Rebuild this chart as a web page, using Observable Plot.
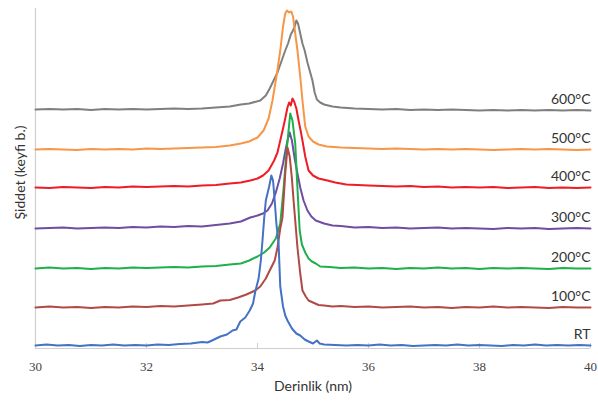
<!DOCTYPE html>
<html>
<head>
<meta charset="utf-8">
<script src="https://cdn.jsdelivr.net/npm/d3@7"></script>
<script src="https://cdn.jsdelivr.net/npm/@observablehq/plot@0.6"></script>
<style>
  html, body { margin: 0; padding: 0; background: #fff; }
</style>
</head>
<body>
<div id="chart"></div>
<script>
// Depth (nm) vs intensity (arbitrary units, curves offset vertically)
const seriesNames = ["RT", "100°C", "200°C", "300°C", "400°C", "500°C", "600°C"];
const seriesColors = ["#4472C4", "#B04A45", "#1FAF4B", "#6F4DA0", "#EE1C25", "#F79646", "#7F7F7F"];
const xTicks = [30, 32, 34, 36, 38, 40];

const rt = [[30,3],[30.2,4],[30.4,3],[30.6,3.5],[30.8,2.5],[31,3.5],[31.2,3],[31.4,4],[31.6,3],[31.8,3.5],[32,3],[32.2,4],[32.4,3.5],[32.6,4.5],[32.8,5],[33,6.5],[33.1,6],[33.2,8.5],[33.33,12],[33.45,14],[33.55,18],[33.62,19],[33.69,27],[33.78,31],[33.86,38],[33.92,45],[33.96,57],[34.02,70],[34.06,88],[34.09,108],[34.12,130],[34.15,148],[34.18,155],[34.21,162],[34.25,173],[34.28,168],[34.31,148],[34.34,125],[34.38,105],[34.41,62],[34.46,42],[34.5,33],[34.54,28],[34.62,20],[34.7,15],[34.77,13],[34.85,9],[34.92,7],[35.0,5],[35.07,8],[35.12,5],[35.2,4],[35.4,3.5],[35.6,3],[35.8,3.5],[36,3],[36.2,4],[36.4,3],[36.6,3.5],[36.8,2.5],[37,3],[37.2,3.5],[37.4,3],[37.6,4],[37.8,3],[38,3.5],[38.2,3],[38.4,2.5],[38.6,3.5],[38.8,3],[39,4],[39.2,3],[39.4,3.5],[39.6,3],[39.8,3.5],[40,3]];

const t100 = [[30,41],[30.25,42],[30.5,41],[30.75,41.5],[31,40.5],[31.25,41.5],[31.5,41],[31.75,42],[32,41.5],[32.25,42.5],[32.5,42],[32.75,43],[33,44],[33.2,45],[33.33,48],[33.5,48.5],[33.65,51],[33.8,54],[33.96,58],[34.05,62],[34.15,70],[34.22,78],[34.31,88],[34.36,101],[34.41,120],[34.45,131],[34.5,175],[34.54,201],[34.58,192],[34.62,170],[34.65,148],[34.72,101],[34.77,75],[34.81,58],[34.87,52],[34.92,48],[35.0,46],[35.1,43.5],[35.2,43],[35.35,42],[35.5,42.5],[35.75,41.5],[36,42],[36.25,41],[36.5,41.5],[36.75,42],[37,41],[37.25,41.5],[37.5,40.5],[37.75,41.5],[38,41],[38.25,42],[38.5,41],[38.75,41.5],[39,41],[39.25,40.5],[39.5,41.5],[39.75,41],[40,41]];

const t200 = [[30,80],[30.25,81],[30.5,80],[30.75,80.5],[31,79.5],[31.25,80.5],[31.5,80],[31.75,81],[32,80.5],[32.25,81],[32.5,81.5],[32.75,81],[33,82],[33.25,82.5],[33.5,84],[33.7,85],[33.85,88],[34.0,92],[34.12,96],[34.22,101],[34.33,110],[34.41,125],[34.47,160],[34.52,195],[34.56,218],[34.59,235],[34.63,228],[34.68,205],[34.72,160],[34.76,118],[34.8,104],[34.86,96],[34.92,90],[34.98,87],[35.05,85],[35.13,82],[35.3,81.5],[35.5,80.5],[35.75,81],[36,80],[36.25,80.5],[36.5,79.5],[36.75,80.5],[37,80],[37.25,81],[37.5,80],[37.75,80.5],[38,79.5],[38.25,80.5],[38.5,80],[38.75,80.5],[39,80],[39.25,79.5],[39.5,80.5],[39.75,80],[40,80]];

const t300 = [[30,120],[30.25,120.5],[30.5,121],[30.75,120],[31,120.5],[31.25,121],[31.5,120.5],[31.75,121.5],[32,121],[32.25,122],[32.5,121.5],[32.75,122.5],[33,122],[33.25,123.5],[33.5,125],[33.7,127],[33.87,131],[34.0,133],[34.1,135],[34.18,138],[34.26,145],[34.33,156],[34.4,170],[34.46,185],[34.51,200],[34.55,210],[34.58,216],[34.62,208],[34.67,190],[34.72,175],[34.77,161],[34.83,148],[34.9,138],[34.97,132],[35.05,128],[35.2,125],[35.35,123],[35.5,122.5],[35.75,121],[36,121.5],[36.25,120.5],[36.5,121],[36.75,120],[37,120.5],[37.25,121],[37.5,120],[37.75,120.5],[38,120],[38.25,119.5],[38.5,120.5],[38.75,120],[39,120.5],[39.25,119.5],[39.5,120],[39.75,120.5],[40,120]];

const t400 = [[30,161],[30.25,160.5],[30.5,161.5],[30.75,161],[31,160.5],[31.25,161.5],[31.5,161],[31.75,162],[32,161.5],[32.25,162],[32.5,162.5],[32.75,162],[33,163],[33.25,163.5],[33.5,165],[33.7,166],[33.87,168],[34.0,170],[34.1,173],[34.2,178],[34.3,188],[34.36,196],[34.41,208],[34.46,220],[34.5,230],[34.54,241],[34.57,246],[34.6,243],[34.63,250],[34.66,247],[34.7,240],[34.74,228],[34.78,217],[34.81,208],[34.86,192],[34.92,178],[35.0,173],[35.1,170],[35.26,168],[35.4,166],[35.6,164],[35.8,163.5],[36,163],[36.25,162.5],[36.5,162],[36.75,162.5],[37,161.5],[37.25,162],[37.5,161],[37.75,161.5],[38,161],[38.25,161.5],[38.5,160.5],[38.75,161],[39,161.5],[39.25,160.5],[39.5,161],[39.75,160.5],[40,161]];

const t500 = [[30,199],[30.25,199.5],[30.5,199],[30.75,198.5],[31,199.5],[31.25,199],[31.5,199.5],[31.75,199],[32,200],[32.25,199.5],[32.5,200],[32.75,200.5],[33,201],[33.25,201.5],[33.5,203],[33.7,205],[33.85,207],[34.0,211],[34.11,218],[34.2,230],[34.27,248],[34.35,275],[34.41,298],[34.46,322],[34.5,335],[34.53,338],[34.57,336],[34.61,337],[34.64,332],[34.68,315],[34.72,298],[34.77,272],[34.81,248],[34.86,222],[34.92,212],[35.0,207],[35.1,204],[35.25,202],[35.5,201],[35.75,200.5],[36,200],[36.25,199.5],[36.5,200],[36.75,199.5],[37,199],[37.25,199.5],[37.5,199],[37.75,199.5],[38,199],[38.25,198.5],[38.5,199],[38.75,199.5],[39,199],[39.25,199.5],[39.5,199],[39.75,198.5],[40,199]];

const t600 = [[30,239],[30.25,239.5],[30.5,239],[30.75,239.5],[31,238.5],[31.25,239.5],[31.5,239],[31.75,239.5],[32,239],[32.25,239.5],[32.5,240],[32.75,239.5],[33,240],[33.25,241],[33.5,242],[33.7,244],[33.85,245],[34.05,248],[34.15,253],[34.22,260],[34.29,268],[34.36,276],[34.43,287],[34.5,298],[34.55,305],[34.6,314],[34.64,318],[34.67,322],[34.7,328],[34.73,325],[34.77,315],[34.81,305],[34.85,298],[34.9,286],[34.95,276],[34.99,268],[35.03,256],[35.07,249],[35.13,246],[35.2,244],[35.35,242],[35.5,241],[35.75,240],[36,239.5],[36.25,239],[36.5,239.5],[36.75,238.5],[37,239],[37.25,238.5],[37.5,239],[37.75,238.5],[38,238],[38.25,238.5],[38.5,238],[38.75,238.5],[39,238],[39.25,238.5],[39.5,238],[39.75,238.5],[40,238]];

const seriesData = [rt, t100, t200, t300, t400, t500, t600];

// Build tidy table
const rows = [];
seriesData.forEach((pts, i) => pts.forEach(([x, y]) => rows.push({series: seriesNames[i], x, y})));
// drawing order: 600°C first, RT last (on top)
const order = seriesNames.slice().reverse();
rows.sort((a, b) => order.indexOf(a.series) - order.indexOf(b.series));

const labelRows = seriesData.map((pts, i) => ({series: seriesNames[i], x: 40, y: pts[pts.length - 1][1]}));

const sans = "Lato, 'Open Sans', sans-serif";

const chart = Plot.plot({
  width: 598,
  height: 403,
  marginLeft: 35,
  marginRight: 8,
  marginTop: 8,
  marginBottom: 55,
  x: {domain: [30, 40], axis: null},
  y: {domain: [0, 340], axis: null},
  color: {domain: seriesNames, range: seriesColors},
  style: {background: "#fff"},
  marks: [
    Plot.ruleX([30], {stroke: "#cfcfcf", strokeWidth: 1.2}),
    Plot.ruleY([0], {stroke: "#cfcfcf", strokeWidth: 1.2}),
    Plot.ruleX(xTicks, {y1: 0, y2: 5, stroke: "#cfcfcf"}),
    Plot.text(xTicks, {x: d => d, frameAnchor: "bottom", lineAnchor: "middle", textAnchor: "middle", dy: 18, fontSize: 13, fontFamily: "'Liberation Serif', 'DejaVu Serif', serif", fill: "#444"}),
    Plot.line(rows, {x: "x", y: "y", z: "series", stroke: "series", strokeWidth: 2, curve: "linear"}),
    Plot.text(labelRows, {x: "x", y: "y", text: "series", textAnchor: "end", dy: -11, fontSize: 14, fontFamily: sans, fill: "#333"}),
    Plot.text(["Derinlik (nm)"], {frameAnchor: "bottom", textAnchor: "middle", lineAnchor: "middle", dy: 38, fontSize: 14, fontFamily: sans, fill: "#333"}),
    Plot.text(["Şiddet (keyfi b.)"], {frameAnchor: "left", textAnchor: "middle", lineAnchor: "middle", rotate: -90, dx: -15, dy: -6, fontSize: 14, fontFamily: sans, fill: "#333"})
  ]
});
document.getElementById("chart").appendChild(chart);
</script>
</body>
</html>
